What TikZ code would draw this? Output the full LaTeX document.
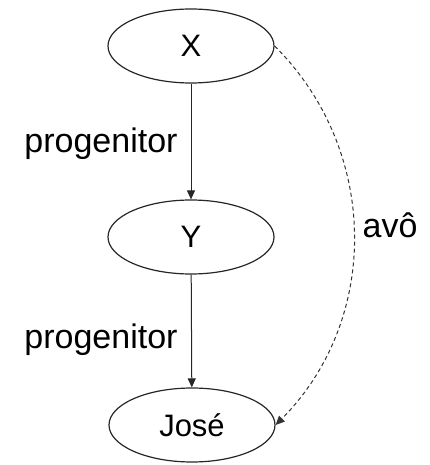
\documentclass[tikz,border=0pt]{standalone}
\usepackage{fontspec}
\setmainfont{Liberation Sans}
\usetikzlibrary{shapes.geometric,arrows.meta}
\begin{document}
\begin{tikzpicture}[x=1pt,y=-1pt,
  ent/.style={draw=black!85, line width=1.2pt, ellipse, minimum width=166pt, minimum height=74pt, inner sep=0pt, font=\fontsize{31}{31}\selectfont},
  lbl/.style={font=\fontsize{34}{34}\selectfont, inner sep=0pt, anchor=base},
  rel/.style={draw=black!85, line width=1pt, -{Triangle[length=9pt,width=8pt]}},
  drel/.style={draw=black!80, line width=1pt, dash pattern=on 4pt off 3pt, -{Triangle[length=9pt,width=8pt]}}]
\useasboundingbox (0,0) rectangle (429,465);
\node[ent] (X) at (191,46) {X};
\node[ent] (Y) at (191,237) {Y};
\node[ent] (J) at (192,425) {José};
\draw[rel] (X) -- (Y);
\draw[rel] (Y) -- (J);
\draw[drel] (X.east) to[bend left=45] (J.east);
\node[lbl] (l1) at (101,153) {progenitor};
\node[lbl] (l2) at (101,348) {progenitor};
\node[lbl] (l3) at (390,237) {avô};
\end{tikzpicture}
\end{document}
